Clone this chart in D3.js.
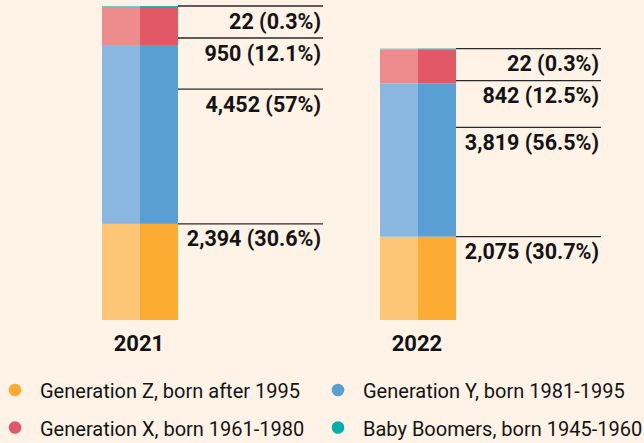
<!DOCTYPE html>
<html>
<head>
<meta charset="utf-8">
<script src="https://cdn.jsdelivr.net/npm/d3@7"></script>
<style>
  html, body { margin: 0; padding: 0; background: #FEF3E6; }
  svg { display: block; }
  text { font-family: Roboto, "Noto Sans", sans-serif; }
</style>
</head>
<body>
<svg id="chart" width="644" height="443"></svg>
<script>
// ---- data ----
const years = ["2021", "2022"];
const genKeys = ["genZ", "genY", "genX", "boomers"];
const genNames = [
  "Generation Z, born after 1995",
  "Generation Y, born 1981-1995",
  "Generation X, born 1961-1980",
  "Baby Boomers, born 1945-1960"
];
const genZ = [2394, 2075];
const genY = [4452, 3819];
const genX = [950, 842];
const boomers = [22, 22];
const pctZ = ["30.6%", "30.7%"];
const pctY = ["57%", "56.5%"];
const pctX = ["12.1%", "12.5%"];
const pctBoomers = ["0.3%", "0.3%"];

// ---- styles ----
const darkColors = ["#FDAC33", "#5A9FD3", "#E25866", "#00AEAB"];
const lightColors = ["#FDC676", "#89B7E0", "#EB8B8B", "#5DC7C2"];
const labelNudge = [0, 44, 0, 0];   // px offset of the leader line under the segment top
const minGap = 32;

const W = 644, H = 443;
const svg = d3.select("#chart");
svg.append("rect").attr("width", W).attr("height", H).attr("fill", "#FEF3E6");

const table = years.map((yr, i) => ({
  year: yr, genZ: genZ[i], genY: genY[i], genX: genX[i], boomers: boomers[i],
  pct: { genZ: pctZ[i], genY: pctY[i], genX: pctX[i], boomers: pctBoomers[i] }
}));
const series = d3.stack().keys(genKeys)(table);
const maxTotal = d3.max(table, d => d.genZ + d.genY + d.genX + d.boomers);

const x = d3.scalePoint().domain(years).range([140, 418]);
const y = d3.scaleLinear().domain([0, maxTotal]).range([320, 6]);
const barW = 76;
const labelLen = 145;

// bars: each bar split in a lighter left half and a darker right half
series.forEach((s, k) => {
  const g = svg.append("g");
  g.selectAll("rect.l").data(s).join("rect")
    .attr("x", d => x(d.data.year) - barW / 2)
    .attr("y", d => y(d[1]))
    .attr("width", barW / 2)
    .attr("height", d => y(d[0]) - y(d[1]))
    .attr("fill", lightColors[k]);
  g.selectAll("rect.r").data(s).join("rect")
    .attr("x", d => x(d.data.year))
    .attr("y", d => y(d[1]))
    .attr("width", barW / 2)
    .attr("height", d => y(d[0]) - y(d[1]))
    .attr("fill", darkColors[k]);
});

// labels with leader lines, laid out top-down
const fmt = d3.format(",");
years.forEach((yr, i) => {
  let prev = -Infinity;
  for (let k = genKeys.length - 1; k >= 0; k--) {
    const seg = series[k][i];
    const ly = Math.max(y(seg[1]) + labelNudge[k], prev + minGap);
    prev = ly;
    const x0 = x(yr) + barW / 2;
    svg.append("line")
      .attr("x1", x0).attr("x2", x0 + labelLen)
      .attr("y1", ly).attr("y2", ly)
      .attr("stroke", "#2a2a2a").attr("stroke-width", 1.3);
    svg.append("text")
      .attr("x", x0 + labelLen - 2)
      .attr("y", ly + 22.5)
      .attr("text-anchor", "end")
      .attr("font-size", 21.5).attr("font-weight", 700)
      .attr("fill", "#141414")
      .text(`${fmt(seg.data[genKeys[k]])} (${seg.data.pct[genKeys[k]]})`);
  }
  svg.append("text")
    .attr("x", x(yr) - 1)
    .attr("y", 351)
    .attr("text-anchor", "middle")
    .attr("font-size", 22).attr("font-weight", 700)
    .attr("fill", "#111")
    .text(yr);
});

// legend
const legCols = [15, 338], legRows = [390, 427.5];
genNames.forEach((name, k) => {
  const cx = legCols[k % 2], cy = legRows[Math.floor(k / 2)];
  svg.append("circle").attr("cx", cx).attr("cy", cy).attr("r", 6.3).attr("fill", darkColors[k]);
  svg.append("text")
    .attr("x", cx + 25).attr("y", cy + 8)
    .attr("font-size", 20)
    .attr("fill", "#141414")
    .text(name);
});
</script>
</body>
</html>
